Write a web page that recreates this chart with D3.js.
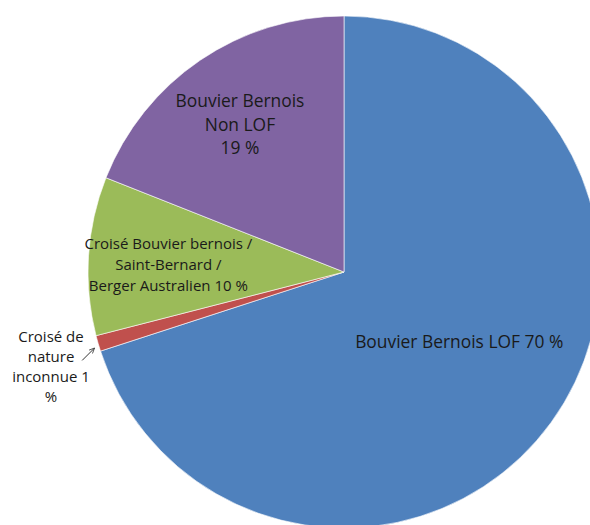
<!DOCTYPE html>
<html>
<head>
<meta charset="utf-8">
<script src="https://cdn.jsdelivr.net/npm/d3@7"></script>
<style>
  body { margin: 0; background: #fff; }
  svg text { font-family: "Open Sans", "Liberation Sans", sans-serif; fill: #1a1a1a; }
</style>
</head>
<body>
<div id="chart"></div>
<script>
// chart data
const categories = [
  'Bouvier Bernois LOF',
  'Croisé de nature inconnue',
  'Croisé Bouvier bernois / Saint-Bernard / Berger Australien',
  'Bouvier Bernois Non LOF'
]
const values = [70, 1, 10, 19]
const labelLines = [
  ['Bouvier Bernois LOF 70 %'],
  ['Croisé de', 'nature', 'inconnue 1', '%'],
  ['Croisé Bouvier bernois /', 'Saint-Bernard /', 'Berger Australien 10 %'],
  ['Bouvier Bernois', 'Non LOF', '19 %']
]
const colors = ['#4F81BD', '#C0504D', '#9BBB59', '#8064A2']

const width = 590
const height = 525
const cx = 344
const cy = 272
const radius = 256

const svg = d3.select('#chart')
  .append('svg')
  .attr('width', width)
  .attr('height', height)

const pie = d3.pie().sort(null).value(d => d)
const arcs = pie(values)

const arc = d3.arc().innerRadius(0).outerRadius(radius)

const g = svg.append('g').attr('transform', `translate(${cx},${cy})`)

g.selectAll('path')
  .data(arcs)
  .enter().append('path')
    .attr('d', arc)
    .attr('fill', (d, i) => colors[i])
    .attr('stroke', '#fff')
    .attr('stroke-width', 0.6)

// label placement per slice: radius along mid angle + small nudge
const labelRadius = [135, 0, 176, 178]
const nudge = [[6, -9], [0, 0], [0, 4], [-4, 0]]
const lineHeight = [21, 20, 21, 23.5]
const fontSize = [17.4, 15, 15, 17.4]

arcs.forEach((d, i) => {
  const mid = (d.startAngle + d.endAngle) / 2
  const r = labelRadius[i]
  let x = Math.sin(mid) * r + nudge[i][0]
  let y = -Math.cos(mid) * r + nudge[i][1]
  if (i === 1) {
    // outside label sits left of the slice
    x = -293
    y = 95
  }
  const lines = labelLines[i]
  const t = g.append('text')
    .attr('text-anchor', 'middle')
    .attr('font-size', fontSize[i])
  lines.forEach((line, j) => {
    t.append('tspan')
      .attr('x', x)
      .attr('y', y + (j - (lines.length - 1) / 2) * lineHeight[i])
      .attr('dy', '0.35em')
      .text(line)
  })
})

// little arrow pointing at the small slice
svg.append('defs')
  .append('marker')
    .attr('id', 'arrowHead')
    .attr('viewBox', '0 -5 10 10')
    .attr('refX', 8)
    .attr('markerWidth', 6)
    .attr('markerHeight', 6)
    .attr('orient', 'auto')
  .append('path')
    .attr('d', 'M0,-4L9,0L0,4')
    .attr('fill', 'none')
    .attr('stroke', '#333')
    .attr('stroke-width', 1.3)

const small = arcs[1]
const smallMid = (small.startAngle + small.endAngle) / 2
const hx = cx + Math.sin(smallMid) * radius - 4
const hy = cy - Math.cos(smallMid) * radius + 5
svg.append('line')
  .attr('x1', hx - 12)
  .attr('y1', hy + 12)
  .attr('x2', hx)
  .attr('y2', hy)
  .attr('stroke', '#333')
  .attr('stroke-width', 1)
  .attr('marker-end', 'url(#arrowHead)')
</script>
</body>
</html>
